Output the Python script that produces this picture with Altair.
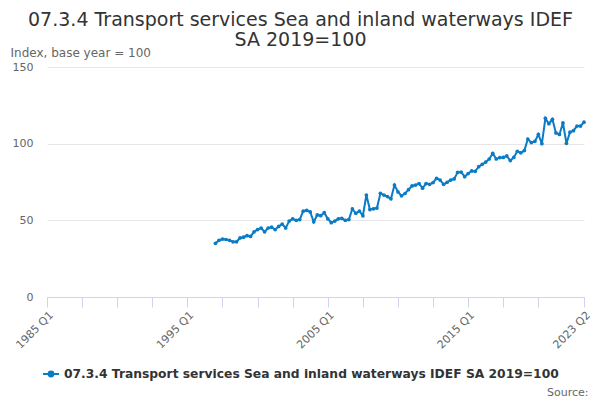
import altair as alt
import pandas as pd

TITLE_LINES = ["07.3.4 Transport services Sea and inland waterways IDEF", "SA 2019=100"]
SERIES_NAME = "07.3.4 Transport services Sea and inland waterways IDEF SA 2019=100"
Y_TITLE = "Index, base year = 100"
SOURCE = "Source:"

first_year = 1997
first_quarter = 1
axis_start_year = 1985

values = [35, 37, 37.8, 37.5, 37, 36, 36, 38.5, 39, 40,
          39.5, 42.5, 44, 45, 42.5, 45, 45.5, 44, 46, 47.5,
          45, 49.5, 51, 50, 50.5, 56, 56.5, 55.5, 49, 53.5,
          53, 55, 51, 48.5, 49.5, 51, 51.3, 50, 50.5, 57.4,
          54.6, 56, 53, 66.5, 57, 57.5, 58, 67.6, 66.5, 65.5,
          64, 73, 68.5, 66, 67.5, 70, 72.4, 73, 74, 71,
          74, 73.5, 74.6, 77.4, 76.3, 73.5, 74.8, 76.3, 77, 81.3,
          81.5, 78.5, 80.5, 82.2, 82, 85, 86.5, 88, 90, 93.7,
          90, 90.9, 91, 92, 89, 91, 95, 94, 95.5, 103,
          100.7, 101.5, 106, 100, 116.5, 113, 115.9, 107, 106, 113.5,
          100.2, 107.5, 108.5, 111.5, 111.5, 114]

x_ticks = [0, 10, 20, 30, 40, 50, 60, 70, 80, 90, 100, 110, 120, 130, 140, 153]
y_ticks = [0, 50, 100, 150]

LINE_COLOR = "#0c7bc5"

rows = []
for i, v in enumerate(values):
    qi = (first_quarter - 1) + i
    year = first_year + qi // 4
    q = qi % 4 + 1
    rows.append({
        "quarter": f"{year} Q{q}",
        "idx": (year - axis_start_year) * 4 + (q - 1),
        "value": v,
        "series": SERIES_NAME,
    })
df = pd.DataFrame(rows)

label_expr = ("(datum.value % 40 == 0 || datum.value == 153) ? "
              "(floor(datum.value / 4) + 1985) + ' Q' + (datum.value % 4 + 1) : ''")

x_enc = alt.X(
    "idx:Q",
    scale=alt.Scale(domain=[0, 153], nice=False, zero=False),
    axis=alt.Axis(
        values=x_ticks,
        labelExpr=label_expr,
        labelAngle=-45,
        labelAlign="right",
        labelBaseline="top",
        labelColor="#666666",
        labelFontSize=11,
        labelOverlap=False,
        labelFlush=False,
        labelPadding=2,
        domainColor="#ccd6eb",
        tickColor="#ccd6eb",
        tickSize=10,
        grid=False,
        title=SOURCE,
        titleX=541,
        titleY=98,
        titleAlign="right",
        titleBaseline="alphabetic",
        titleFontWeight="normal",
        titleFontSize=11,
        titleColor="#666666",
    ),
)

y_enc = alt.Y(
    "value:Q",
    scale=alt.Scale(domain=[0, 150], nice=False),
    axis=alt.Axis(
        values=y_ticks,
        grid=True,
        gridColor="#e6e6e6",
        domain=False,
        ticks=False,
        labelColor="#666666",
        labelFontSize=11,
        labelPadding=14,
        title=Y_TITLE,
        titleAngle=0,
        titleAlign="left",
        titleBaseline="alphabetic",
        titleX=-37,
        titleY=-11,
        titleFontWeight="normal",
        titleFontSize=12,
        titleColor="#666666",
    ),
)

color_enc = alt.Color(
    "series:N",
    scale=alt.Scale(range=[LINE_COLOR]),
    legend=alt.Legend(
        title=None,
        orient="none",
        legendX=-5,
        legendY=298,
        symbolType="M-1,0L1,0M-0.3,0A0.3,0.3 0 1,1 0.3,0A0.3,0.3 0 1,1 -0.3,0",
        symbolSize=256,
        symbolStrokeWidth=2,
        symbolStrokeColor=LINE_COLOR,
        symbolFillColor=LINE_COLOR,
        labelFontSize=12.3,
        labelFontWeight="bold",
        labelColor="#333333",
        labelLimit=700,
        labelOffset=4,
        padding=0,
    ),
)

base = alt.Chart(df)
line = base.mark_line(strokeWidth=2).encode(x=x_enc, y=y_enc, color=color_enc)
pts = base.mark_point(filled=True, size=14, opacity=1).encode(x=x_enc, y=y_enc, color=color_enc)

chart = (
    alt.layer(line, pts)
    .properties(
        width=537,
        height=230,
        autosize=alt.AutoSizeParams(type="none"),
        padding={"left": 39, "top": 59, "right": 8, "bottom": 102},
        title=alt.TitleParams(
            text=TITLE_LINES,
            anchor="middle",
            frame="group",
            dx=-15,
            dy=23,
            offset=19,
            fontSize=19,
            fontWeight="normal",
            color="#333333",
            lineHeight=20,
        ),
        background="white",
    )
    .configure(font="DejaVu Sans")
    .configure_view(stroke=None)
)

chart.save("out.html", embed_options={"renderer": "svg", "actions": False})
